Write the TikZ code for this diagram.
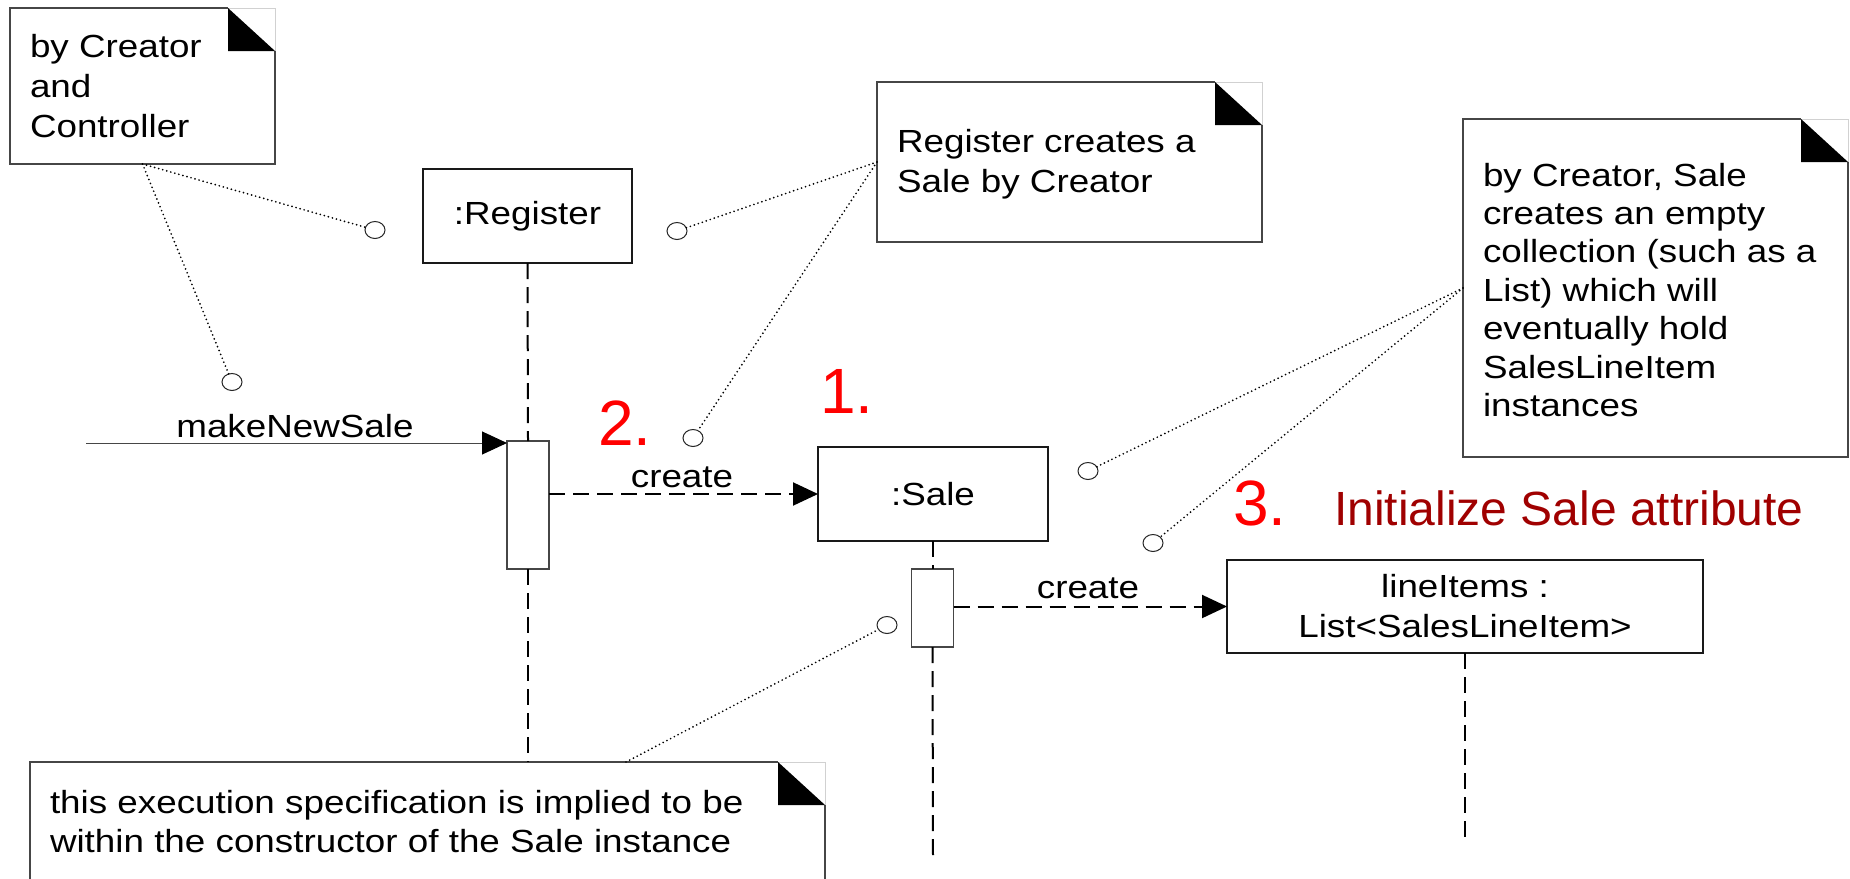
\documentclass[tikz,border=0pt]{standalone}
\usepackage{fontspec}
\setmainfont{Liberation Sans}[FakeStretch=1.15]
\newfontfamily\numfont{Liberation Sans}
\usetikzlibrary{arrows.meta,shapes.geometric}
\definecolor{stepred}{RGB}{255,0,0}
\definecolor{attrred}{RGB}{160,0,0}
\definecolor{edgegray}{RGB}{70,70,70}
\newcommand\textlines[1]{\begin{tabular}[t]{@{}l@{}}#1\end{tabular}}
% dog-eared note outline drawn round an empty node
\newcommand\dogear[1]{%
  \draw[noteedge] ([xshift=-23.5pt]#1.north east) -- (#1.north west) -- (#1.south west)
        -- (#1.south east) -- ([yshift=-21.5pt]#1.north east);
  \draw[black!18, line width=0.4pt] ([xshift=-23.5pt]#1.north east) -- (#1.north east)
        -- ([yshift=-21.5pt]#1.north east);
  \fill[black] ([xshift=-23.5pt]#1.north east) -- ([xshift=-23.5pt,yshift=-21.5pt]#1.north east)
        -- ([yshift=-21.5pt]#1.north east) -- cycle;}
\begin{document}
\begin{tikzpicture}[x=0.5pt,y=-0.5pt,
  every node/.style={inner sep=0pt, outer sep=0pt},
  body/.style={font=\fontsize{16}{20}\selectfont},
  objbox/.style={body, draw=black!90, line width=0.75pt, fill=white, align=center},
  actbox/.style={draw=edgegray, line width=0.6pt, fill=white, minimum width=21pt},
  notebox/.style={fill=white, anchor=north west},
  noteedge/.style={draw=edgegray, line width=0.6pt},
  notetext/.style={body, anchor=base west},
  lifeline/.style={line width=1pt, dash pattern=on 8pt off 4pt},
  msg/.style={draw=edgegray, line width=0.5pt, -{Triangle[length=12.5pt,width=11.5pt,color=black]}},
  createmsg/.style={line width=1pt, dash pattern=on 8pt off 4pt, -{Triangle[length=12.5pt,width=11.5pt]}},
  msglabel/.style={body, anchor=base},
  notelink/.style={line width=0.95pt, line cap=round, dash pattern=on 0pt off 2.1pt},
  hook/.style={ellipse, draw=black!85, line width=0.5pt, fill=white, minimum width=10pt, minimum height=8.5pt},
  stepnum/.style={font=\numfont\fontsize{32}{36}\selectfont, text=stepred, anchor=base west},
  attrlabel/.style={font=\numfont\fontsize{24}{28}\selectfont, text=attrred, anchor=base west}]

\useasboundingbox (0,0) rectangle (1850,878);
\clip (0,0) rectangle (1850,878);
\fill[white] (0,0) rectangle (1850,878);

% notes
\node[notebox, minimum width=132.5pt, minimum height=78pt] (note1) at (10,8) {};
\node[notebox, minimum width=192.5pt, minimum height=80pt] (note2) at (877,82) {};
\node[notebox, minimum width=192.5pt, minimum height=169pt] (note3) at (1463,119) {};
\node[notebox, minimum width=397.5pt, minimum height=69pt] (note4) at (30,762) {};
\dogear{note1}
\dogear{note2}
\dogear{note3}
\dogear{note4}
\node[notetext] (note1text) at (30,57) {\textlines{by Creator\\and\\Controller}};
\node[notetext] (note2text) at (897,152) {\textlines{Register creates a\\Sale by Creator}};
\node[notetext, font=\fontsize{16}{19.2}\selectfont] (note3text) at (1483,186) {\textlines{by Creator, Sale\\creates an empty\\collection (such as a\\List) which will\\eventually hold\\SalesLineItem\\instances}};
\node[notetext, font=\fontsize{16}{19.5}\selectfont] (note4text) at (50,813) {\textlines{this execution specification is implied to be\\within the constructor of the Sale instance}};

% participants
\node[objbox, minimum width=104.5pt, minimum height=47pt] (register) at (527.5,216) {:Register};
\node[objbox, minimum width=115pt, minimum height=47pt] (sale) at (933,494) {:Sale};
\node[objbox, minimum width=238pt, minimum height=46.5pt] (items) at (1465,606.5) {lineItems :\\List<SalesLineItem>};

% activations
\node[actbox, minimum height=64pt] (act1) at (528,505) {};
\node[actbox, minimum height=39pt] (act2) at (932.5,608) {};

% lifelines
\coordinate (regend) at (528,762);
\coordinate (saleend) at (933,861);
\coordinate (itemsend) at (1465,838);
\draw[lifeline] (register.south) -- (act1.north);
\draw[lifeline] (act1.south) -- (regend);
\draw[lifeline] (sale.south) -- (sale.south |- act2.north);
\draw[lifeline] (act2.south) -- (saleend);
\draw[lifeline] (items.south) -- (itemsend);

% messages
\coordinate (found) at (86,443);
\draw[msg] (found) -- (found -| act1.west);
\node[msglabel] (mlabel) at (295,437) {makeNewSale};
\draw[createmsg] (act1.east |- sale.west) -- (sale.west);
\node[msglabel] (c1label) at (682,487) {create};
\draw[createmsg] (act2.east |- items.west) -- (items.west);
\node[msglabel] (c2label) at (1088,598) {create};

% step numbers
\node[stepnum] (s2) at (598,445) {2.};
\node[stepnum] (s1) at (820,413) {1.};
\node[stepnum] (s3) at (1233,525) {3.};
\node[attrlabel] (attr) at (1334,525) {Initialize Sale attribute};

% note anchors
\node[hook] (h1) at (375,230) {};
\node[hook] (h2) at (232,382) {};
\node[hook] (h3) at (677,231) {};
\node[hook] (h4) at (693,438) {};
\node[hook] (h5) at (1088,471) {};
\node[hook] (h6) at (1153,543) {};
\node[hook] (h7) at (887,625) {};
\coordinate (note4tip) at (626,762);

\draw[notelink] (note1.south) -- (h1);
\draw[notelink] (note1.south) -- (h2);
\draw[notelink] (note2.west) -- (h3);
\draw[notelink] (note2.west) -- (h4);
\draw[notelink] (note3.west) -- (h5);
\draw[notelink] (note3.west) -- (h6);
\draw[notelink] (note4tip) -- (h7);
\end{tikzpicture}
\end{document}
